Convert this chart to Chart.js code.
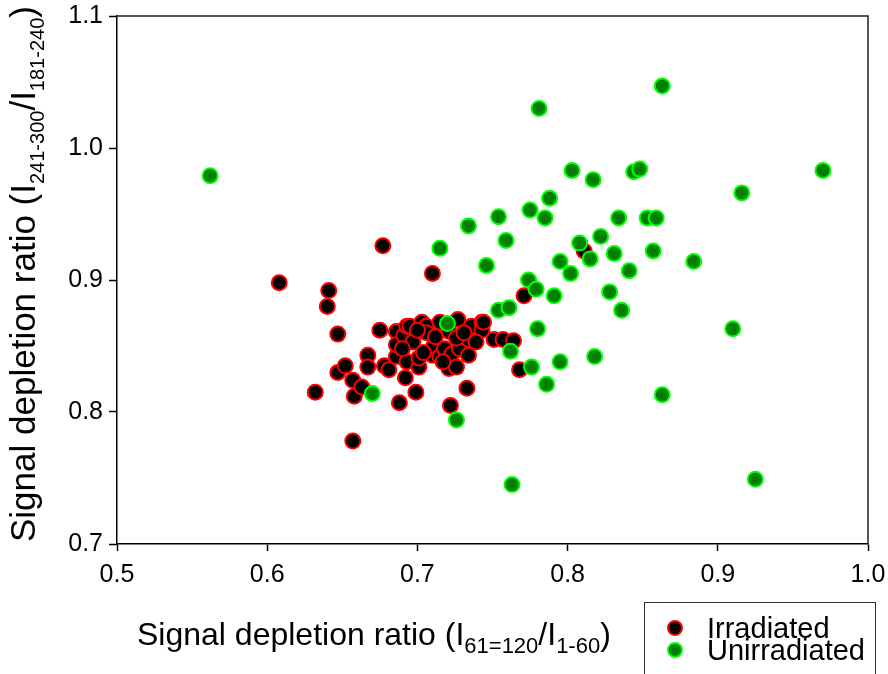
<!DOCTYPE html>
<html>
<head>
<meta charset="utf-8">
<script src="https://cdn.jsdelivr.net/npm/chart.js@4"></script>
<style>
  html, body { margin: 0; padding: 0; background: #fff; overflow: hidden; }
  #wrap { position: relative; width: 888px; height: 674px; font-family: "Liberation Sans", Arial, sans-serif; color: #000; }
  #chart { position: absolute; left: 0; top: 0; }
  .title { position: absolute; white-space: nowrap; }
  #ytitle { left: 5px; top: 542px; font-size: 35px; line-height: 35px; transform-origin: 0 0; transform: rotate(-90deg); }
  #ytitle sub { font-size: 20px; line-height: 0; vertical-align: -9px; }
  #xtitle { left: 137px; top: 618px; font-size: 32px; line-height: 32px; }
  #xtitle sub { font-size: 22px; line-height: 0; vertical-align: -8px; }
  #legend { position: absolute; left: 644px; top: 602px; width: 232px; height: 100px; border: 1px solid #333; box-sizing: border-box; }
  .item { position: absolute; left: 0; height: 22px; font-size: 29px; line-height: 22px; }
  .dot { position: absolute; left: 22px; top: 3px; width: 12px; height: 12px; border-radius: 50%; border: 2px solid; }
  .lbl { position: absolute; left: 62px; top: 0; white-space: nowrap; }
</style>
</head>
<body>
<div id="wrap">
  <canvas id="chart" width="888" height="674"></canvas>
  <div id="ytitle" class="title">Signal depletion ratio (I<sub>241-300</sub>/I<sub>181-240</sub>)</div>
  <div id="xtitle" class="title">Signal depletion ratio (I<sub>61=120</sub>/I<sub>1-60</sub>)</div>
  <div id="legend"></div>
</div>
<script>
// Irradiated samples
const irradX = [0.608, 0.632, 0.640, 0.641, 0.647, 0.647, 0.652, 0.657, 0.657, 0.658,
  0.663, 0.667, 0.667, 0.675, 0.677, 0.678, 0.681, 0.686, 0.686, 0.686,
  0.688, 0.691, 0.692, 0.693, 0.693, 0.695, 0.697, 0.699, 0.701, 0.701,
  0.703, 0.706, 0.706, 0.710, 0.710, 0.711, 0.715, 0.715, 0.718, 0.721,
  0.722, 0.723, 0.726, 0.727, 0.728, 0.733, 0.734, 0.734, 0.736, 0.743,
  0.743, 0.744, 0.751, 0.757, 0.764, 0.768, 0.771, 0.811, 0.700, 0.712,
  0.721, 0.726, 0.690, 0.704, 0.717, 0.731, 0.739];
const irradY = [0.898, 0.815, 0.880, 0.892, 0.859, 0.830, 0.835, 0.778, 0.824, 0.812,
  0.819, 0.843, 0.834, 0.862, 0.926, 0.835, 0.832, 0.861, 0.842, 0.851,
  0.807, 0.858, 0.826, 0.865, 0.838, 0.865, 0.853, 0.815, 0.834, 0.841,
  0.868, 0.865, 0.860, 0.843, 0.905, 0.850, 0.868, 0.842, 0.848, 0.833,
  0.805, 0.844, 0.834, 0.870, 0.848, 0.818, 0.855, 0.843, 0.865, 0.868,
  0.862, 0.868, 0.855, 0.855, 0.854, 0.832, 0.888, 0.922, 0.862, 0.857,
  0.861, 0.856, 0.848, 0.845, 0.838, 0.860, 0.853];

// Unirradiated samples
const unirrX = [0.562, 0.670, 0.715, 0.720, 0.726, 0.734, 0.746, 0.754, 0.754, 0.759,
  0.761, 0.762, 0.763, 0.774, 0.775, 0.776, 0.779, 0.780, 0.781, 0.785,
  0.786, 0.788, 0.791, 0.795, 0.795, 0.802, 0.803, 0.808, 0.815, 0.817,
  0.818, 0.822, 0.828, 0.831, 0.834, 0.836, 0.841, 0.844, 0.848, 0.853,
  0.857, 0.859, 0.863, 0.863, 0.884, 0.910, 0.916, 0.925, 0.970];
const unirrY = [0.979, 0.814, 0.924, 0.867, 0.794, 0.941, 0.911, 0.948, 0.877, 0.930,
  0.879, 0.846, 0.745, 0.900, 0.953, 0.834, 0.893, 0.863, 1.030, 0.947,
  0.821, 0.962, 0.888, 0.914, 0.838, 0.905, 0.983, 0.928, 0.916, 0.976,
  0.842, 0.933, 0.891, 0.920, 0.947, 0.877, 0.907, 0.982, 0.984, 0.947,
  0.922, 0.947, 1.047, 0.813, 0.914, 0.863, 0.966, 0.749, 0.983];

const seriesLabels = ["Irradiated", "Unirradiated"];
const xTicks = [0.5, 0.6, 0.7, 0.8, 0.9, 1.0];
const yTicks = [0.7, 0.8, 0.9, 1.0, 1.1];

const toPoints = (xs, ys) => xs.map((x, i) => ({x: x, y: ys[i]}));

// box round the plot area (top and right sides)
const frame = {
  id: "frame",
  afterDraw(chart) {
    const a = chart.chartArea, ctx = chart.ctx;
    ctx.save();
    ctx.strokeStyle = "#222";
    ctx.lineWidth = 1.5;
    ctx.beginPath();
    ctx.moveTo(a.left, a.top);
    ctx.lineTo(a.right, a.top);
    ctx.lineTo(a.right, a.bottom);
    ctx.stroke();
    ctx.restore();
  }
};

const tickFont = {family: "'Liberation Sans', Arial, sans-serif", size: 25};

const chart = new Chart("chart", {
  type: "scatter",
  data: {
    datasets: [{
        label: seriesLabels[0],
        data: toPoints(irradX, irradY),
        backgroundColor: "#000000",
        borderColor: "#ff0000",
        borderWidth: 2,
        pointRadius: 7.5,
        pointHoverRadius: 7.5,
        order: 1
      },
      {
        label: seriesLabels[1],
        data: toPoints(unirrX, unirrY),
        backgroundColor: "#008000",
        borderColor: "#00ff00",
        borderWidth: 2,
        pointRadius: 7.5,
        pointHoverRadius: 7.5,
        order: 0
      }
    ]
  },
  options: {
    responsive: false,
    animation: false,
    events: [],
    layout: {padding: {left: 0, top: 16, right: 20, bottom: 80}},
    plugins: {legend: {display: false}, tooltip: {enabled: false}},
    scales: {
      x: {
        type: "linear",
        min: xTicks[0],
        max: xTicks[xTicks.length - 1],
        afterBuildTicks: (s) => { s.ticks = xTicks.map(v => ({value: v})); },
        afterFit: (s) => { s.height = 50; s.paddingLeft = 0; s.paddingRight = 0; },
        ticks: {color: "#000", font: tickFont, padding: 9, maxRotation: 0,
          callback: (v) => Number(v).toFixed(1)},
        grid: {drawOnChartArea: false, tickLength: 7, tickColor: "#000", tickWidth: 1.5},
        border: {color: "#000", width: 1.5}
      },
      y: {
        type: "linear",
        min: yTicks[0],
        max: yTicks[yTicks.length - 1],
        afterBuildTicks: (s) => { s.ticks = yTicks.map(v => ({value: v})); },
        afterFit: (s) => { s.width = 117; s.paddingTop = 0; s.paddingBottom = 0; },
        ticks: {color: "#000", font: tickFont, padding: 6,
          callback: (v) => Number(v).toFixed(1)},
        grid: {drawOnChartArea: false, tickLength: 8, tickColor: "#000", tickWidth: 1.5},
        border: {color: "#000", width: 1.5}
      }
    }
  },
  plugins: [frame]
});

// legend built from the datasets
const legend = document.getElementById("legend");
chart.data.datasets.forEach((ds, i) => {
  const item = document.createElement("div");
  item.className = "item";
  item.style.top = (14 + i * 22) + "px";
  item.innerHTML = '<span class="dot"></span><span class="lbl"></span>';
  const dot = item.querySelector(".dot");
  dot.style.background = ds.backgroundColor;
  dot.style.borderColor = ds.borderColor;
  item.querySelector(".lbl").textContent = ds.label;
  legend.appendChild(item);
});
</script>
</body>
</html>
